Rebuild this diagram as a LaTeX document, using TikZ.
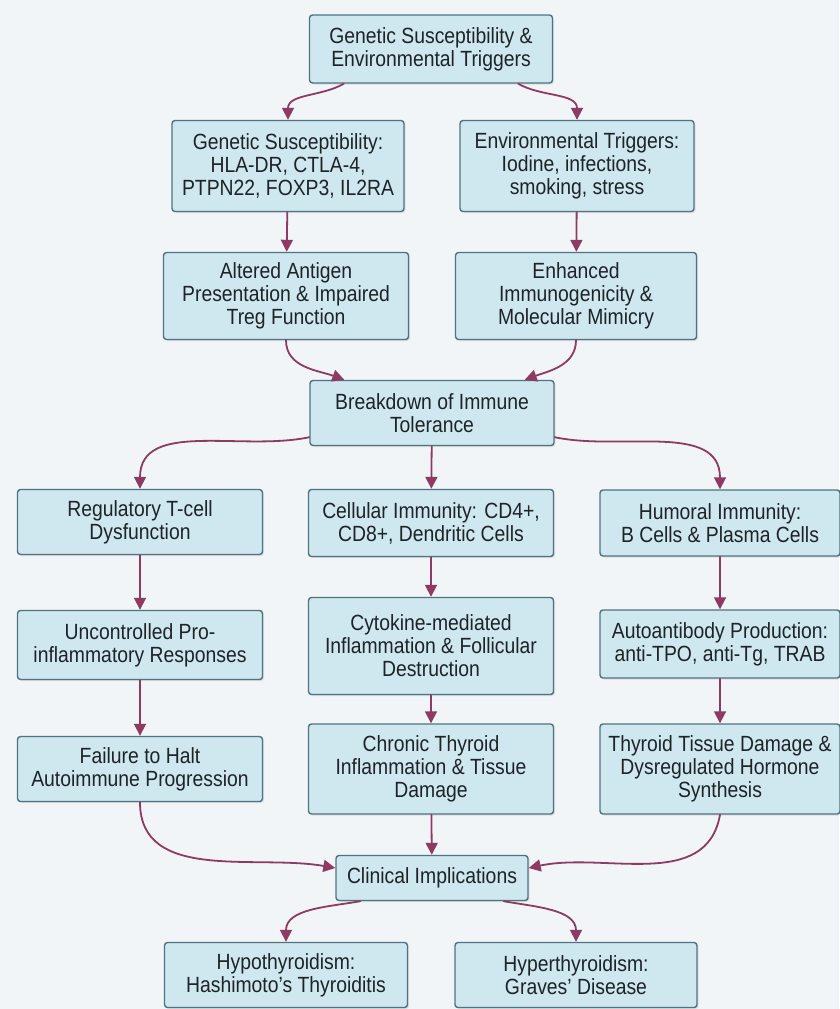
\documentclass[tikz,border=0pt]{standalone}
\usepackage{fontspec}
\setmainfont{Liberation Sans}[FakeStretch=0.88]
\usepackage{pgf,tikz}
\usetikzlibrary{arrows.meta}
\usetikzlibrary{shadows}
\definecolor{boxfill}{HTML}{CFE7EF}
\definecolor{boxline}{HTML}{4F7480}
\definecolor{arrowc}{HTML}{8E3A62}
\definecolor{bgc}{HTML}{F2F5F7}
\definecolor{txt}{HTML}{1E2326}
\begin{document}
\begin{tikzpicture}[x=1pt,y=1pt,line cap=round,line join=round,>={Triangle[length=12pt,width=12pt]},
  box/.style={draw=boxline,fill=boxfill,line width=1.4pt,rounded corners=3pt,align=center,
    text=txt,font=\fontsize{22}{23}\selectfont,inner sep=2pt,
    drop shadow={opacity=0.2,shadow xshift=1.5pt,shadow yshift=-1.5pt}},
  link/.style={->,color=arrowc,line width=1.8pt}]
\fill[bgc] (0,0) rectangle (839,-1009);
\useasboundingbox (0,0) rectangle (839,-1009);
% top
\node[box,minimum width=243,minimum height=68] (top) at (431,-49) {Genetic Susceptibility \&\\Environmental Triggers};
\node[box,minimum width=232,minimum height=91] (gen) at (288,-166) {Genetic Susceptibility:\\HLA-DR, CTLA-4,\\PTPN22, FOXP3, IL2RA};
\node[box,minimum width=234,minimum height=91] (env) at (577,-166) {Environmental Triggers:\\Iodine, infections,\\smoking, stress};
\node[box,minimum width=245,minimum height=87] (alt) at (286,-296) {Altered Antigen\\Presentation \& Impaired\\Treg Function};
\node[box,minimum width=241,minimum height=87] (enh) at (576,-296) {Enhanced\\Immunogenicity \&\\Molecular Mimicry};
\node[box,minimum width=244,minimum height=65] (brk) at (432,-413) {Breakdown of Immune\\Tolerance};
% three columns
\node[box,minimum width=245,minimum height=65] (reg) at (140,-522) {Regulatory T-cell\\Dysfunction};
\node[box,minimum width=245,minimum height=67] (cell) at (431,-523) {Cellular Immunity: CD4+,\\CD8+, Dendritic Cells};
\node[box,minimum width=240,minimum height=66] (hum) at (720,-523) {Humoral Immunity:\\B Cells \& Plasma Cells};
\node[box,minimum width=245,minimum height=69] (unc) at (140,-645) {Uncontrolled Pro-\\inflammatory Responses};
\node[box,minimum width=245,minimum height=97] (cyt) at (431,-646) {Cytokine-mediated\\Inflammation \& Follicular\\Destruction};
\node[box,minimum width=240,minimum height=68] (auto) at (720,-644) {Autoantibody Production:\\anti-TPO, anti-Tg, TRAB};
\node[box,minimum width=245,minimum height=65] (fail) at (140,-769) {Failure to Halt\\Autoimmune Progression};
\node[box,minimum width=245,minimum height=90] (chr) at (431,-769) {Chronic Thyroid\\Inflammation \& Tissue\\Damage};
\node[box,minimum width=240,minimum height=90] (tis) at (720,-769) {Thyroid Tissue Damage \&\\Dysregulated Hormone\\Synthesis};
% bottom
\node[box,minimum width=192,minimum height=45] (clin) at (432,-878) {Clinical Implications};
\node[box,minimum width=243,minimum height=65] (hypo) at (286,-975) {Hypothyroidism:\\Hashimoto's Thyroiditis};
\node[box,minimum width=242,minimum height=65] (hyper) at (576,-975) {Hyperthyroidism:\\Graves' Disease};
% links
\draw[link] (top.south west)++(35,0) to[out=-150,in=90] (gen.north);
\draw[link] (top.south east)++(-35,0) to[out=-30,in=90] (env.north);
\draw[link] (gen) -- (alt);
\draw[link] (env) -- (enh);
\draw[link] (alt.south) to[out=-90,in=160] ([xshift=35]brk.north west);
\draw[link] (enh.south) to[out=-90,in=20] ([xshift=-30]brk.north east);
\draw[link] ([yshift=9]brk.south west) to[out=192,in=90] (reg.north);
\draw[link] (brk) -- (cell);
\draw[link] ([yshift=9]brk.south east) to[out=-12,in=90] (hum.north);
\draw[link] (reg) -- (unc);
\draw[link] (unc) -- (fail);
\draw[link] (cell) -- (cyt);
\draw[link] (cyt) -- (chr);
\draw[link] (hum) -- (auto);
\draw[link] (auto) -- (tis);
\draw[link] (fail.south) to[out=-90,in=170] ([yshift=10]clin.west);
\draw[link] (chr) -- (clin);
\draw[link] (tis.south) to[out=-100,in=12] ([yshift=10]clin.east);
\draw[link] ([xshift=25]clin.south west) to[out=190,in=90] (hypo.north);
\draw[link] ([xshift=-25]clin.south east) to[out=-10,in=90] (hyper.north);
\end{tikzpicture}
\end{document}
